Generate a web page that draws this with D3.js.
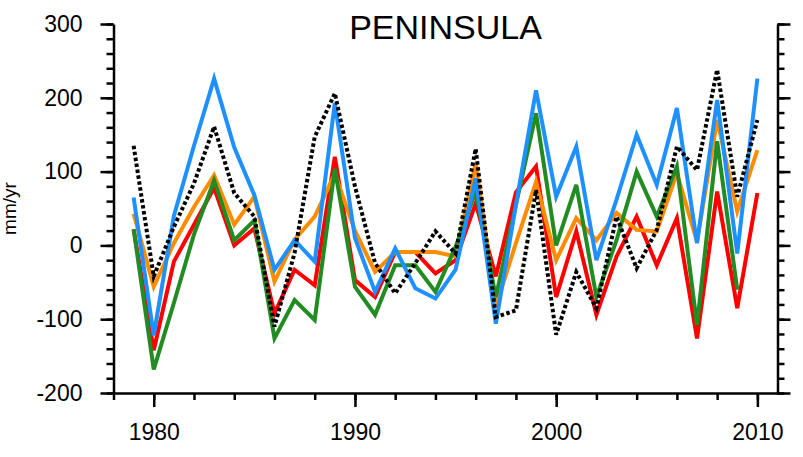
<!doctype html>
<html>
<head>
  <meta charset="utf-8">
</head>
<body>
  <style>
    body {
      margin: 0;
      background: #fff;
      font-family: "Liberation Sans", Arial, Helvetica, sans-serif;
    }
  </style>
  <div id="chart"></div>

<script src="https://cdnjs.cloudflare.com/ajax/libs/d3/7.8.5/d3.min.js"></script>
<script>
  var width = 803
  var height = 457

  // Data
  var years = d3.range(1979, 2011)

  var obs = [135, -42, 25, 84, 161, 71, 39, -110, -10, 147, 206, 80, -24, -65, -24, 19,
    -11, 131, -97, -88, 75, -121, -36, -85, 39, -31, 21, 134, 102, 238, 66, 170]
  var blue = [65, -122, 40, 135, 226, 133, 68, -33, 7, -22, 193, 10, -63, -4, -58, -72,
    -33, 91, -106, 55, 210, 66, 134, -20, 62, 150, 82, 186, 3, 197, -11, 226]
  var orange = [43, -56, 3, 52, 95, 28, 66, -49, 8, 39, 97, 20, -36, -9, -9, -9,
    -15, 111, -83, 3, 86, -20, 37, 7, 44, 21, 19, 98, 5, 170, 46, 129]
  var red = [22, -142, -22, 28, 78, 0, 23, -92, -33, -54, 120, -47, -70, -9, -9, -38,
    -20, 57, -42, 72, 107, -70, 19, -94, -15, 39, -27, 37, -126, 73, -85, 71]
  var green = [22, -168, -78, 15, 88, 7, 34, -126, -74, -101, 104, -56, -94, -27, -27, -63,
    -2, 73, -70, 55, 179, 0, 82, -70, 7, 100, 39, 107, -108, 141, -60, null]

  var seriesNames = ['red', 'orange', 'green', 'blue', 'obs']
  var seriesValues = [red, orange, green, blue, obs]
  var seriesColors = ['#ff0000', '#ff8c00', '#228b22', '#1e90ff', '#000000']

  var yMajor = [-200, -100, 0, 100, 200, 300]
  var yMinor = d3.range(-200, 301, 20)
  var xMajor = [1980, 1990, 2000, 2010]
  var xMinor = d3.range(1978, 2011, 2)

  var titleText = 'PENINSULA'
  var yLabel = 'mm/yr'

  var svg = d3.select('#chart')
    .append('svg')
    .attr('width', width)
    .attr('height', height)

  var x = d3.scaleLinear().domain([1978, 2011]).range([113.5, 777.5])
  var y = d3.scaleLinear().domain([-200, 300]).range([393, 24])

  var line = d3.line()
    .defined(d => d[1] != null)
    .x(d => x(d[0]))
    .y(d => y(d[1]))

  // series
  svg.append('g')
    .attr('class', 'lines')
    .selectAll('path')
    .data(seriesNames)
    .enter().append('path')
    .attr('d', (d, i) => line(years.map((yr, j) => [yr, seriesValues[i][j]])))
    .attr('fill', 'none')
    .attr('stroke', (d, i) => seriesColors[i])
    .attr('stroke-width', 4)
    .attr('stroke-linejoin', 'miter')
    .attr('stroke-dasharray', d => d == 'obs' ? '3.5,2.5' : null)

  // plain hyphen for negatives, like the original
  var plain = d => String(d)

  // axes: outward ticks on left, bottom and right, no top line
  function styleAxis(g) {
    g.selectAll('path, line')
      .attr('stroke', '#000')
      .attr('stroke-width', 2.5)
    g.selectAll('text')
      .attr('font-family', '"Liberation Sans", Arial, sans-serif')
      .attr('font-size', 23)
      .attr('fill', '#000')
  }

  svg.append('g')
    .attr('transform', `translate(${x.range()[0]},0)`)
    .call(d3.axisLeft(y).tickValues(yMinor).tickSize(7).tickSizeOuter(0).tickFormat(''))
    .call(styleAxis)

  svg.append('g')
    .attr('transform', `translate(${x.range()[0]},0)`)
    .call(d3.axisLeft(y).tickValues(yMajor).tickSize(13).tickSizeOuter(0).tickPadding(18).tickFormat(plain))
    .call(styleAxis)
    .call(g => g.select('.domain').remove())

  svg.append('g')
    .attr('transform', `translate(${x.range()[1]},0)`)
    .call(d3.axisRight(y).tickValues(yMinor).tickSize(7).tickSizeOuter(0).tickFormat(''))
    .call(styleAxis)

  svg.append('g')
    .attr('transform', `translate(${x.range()[1]},0)`)
    .call(d3.axisRight(y).tickValues(yMajor).tickSize(13).tickSizeOuter(0).tickFormat(''))
    .call(styleAxis)
    .call(g => g.select('.domain').remove())

  svg.append('g')
    .attr('transform', `translate(0,${y.range()[0]})`)
    .call(d3.axisBottom(x).tickValues(xMinor).tickSize(7).tickSizeOuter(0).tickFormat(''))
    .call(styleAxis)

  svg.append('g')
    .attr('transform', `translate(0,${y.range()[0]})`)
    .call(d3.axisBottom(x).tickValues(xMajor).tickSize(14).tickSizeOuter(0).tickPadding(17).tickFormat(plain))
    .call(styleAxis)
    .call(g => g.select('.domain').remove())

  // title
  svg.append('text')
    .text(titleText)
    .attr('x', (x.range()[0] + x.range()[1]) / 2)
    .attr('y', 39)
    .attr('text-anchor', 'middle')
    .attr('font-size', 34)
    .attr('fill', '#000')

  // y label
  svg.append('text')
    .text(yLabel)
    .attr('transform', `translate(16,${(y.range()[0] + y.range()[1]) / 2}) rotate(-90)`)
    .attr('text-anchor', 'middle')
    .attr('font-size', 19)
    .attr('fill', '#000')
</script>
</body>
</html>
